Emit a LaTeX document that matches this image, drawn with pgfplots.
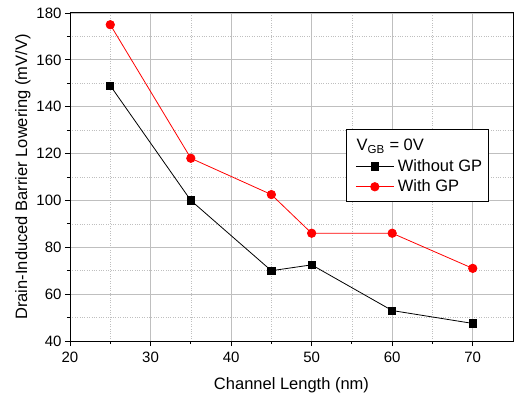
\documentclass[border=0pt]{standalone}
\usepackage{pgfplots}
\pgfplotsset{compat=1.18}
\usepackage{fontspec}
\setmainfont{Liberation Sans}
\begin{document}
\begin{tikzpicture}
\begin{axis}[
  scale only axis, width=443bp, height=328bp,
  xmin=20, xmax=75, ymin=40, ymax=180,
  xtick={20,30,40,50,60,70}, ytick={40,60,...,180},
  minor x tick num=1, minor y tick num=1,
  grid=both,
  major grid style={gray!50, line width=0.8pt},
  minor grid style={gray!50, dotted, line width=0.6pt},
  tick align=outside, tick pos=left,
  major tick length=5bp, minor tick length=3bp,
  every tick/.style={black, line width=0.9pt},
  axis line style={line width=1pt},
  /pgf/number format/assume math mode=true,
  ticklabel style={font=\fontsize{15bp}{18bp}\selectfont},
  label style={font=\fontsize{16.5bp}{19bp}\selectfont},
  xticklabel style={yshift=-3bp},
  xlabel={Channel Length (nm)},
  ylabel={Drain-Induced Barrier Lowering (mV/V)},
  xlabel style={yshift=-8bp},
  ylabel style={yshift=-1bp},
  legend style={at={(0.624,0.645)}, anchor=north west, font=\fontsize{16.5bp}{19bp}\selectfont, draw=black, line width=0.8pt, inner xsep=4bp, inner ysep=6bp, row sep=3bp},
  legend cell align=left,
  legend image code/.code={\path[draw=none,fill=none] (0bp,0bp) -- (45bp,0bp); \draw[mark repeat=2,mark phase=2] plot coordinates {(5bp,0bp) (24bp,0bp) (43bp,0bp)};},
]
\addlegendimage{legend image code/.code={\path[draw=none,fill=none] (0bp,0bp) -- (45bp,0bp); \node[draw=none, fill=none, text=black, anchor=base west, inner sep=0pt, font=\fontsize{16.5bp}{19bp}\selectfont] at (5bp,-5.5bp) {\makebox[0pt][l]{V\textsubscript{GB} = 0V}};}}
\addlegendentry{\strut}
\addplot[black, line width=0.8pt, mark=square*, mark size=3.6bp, mark options={solid}] coordinates {
(25,149) (35,100) (45,70) (50,72.5) (60,53) (70,47.5)};
\addlegendentry{Without GP}
\addplot[red, line width=0.8pt, mark=*, mark size=4.2bp] coordinates {
(25,175) (35,118) (45,102.5) (50,86) (60,86) (70,71)};
\addlegendentry{With GP}
\end{axis}
\path ([xshift=-70bp,yshift=-55bp]current axis.south west) rectangle ([xshift=3bp,yshift=13bp]current axis.north east);
\end{tikzpicture}
\end{document}
